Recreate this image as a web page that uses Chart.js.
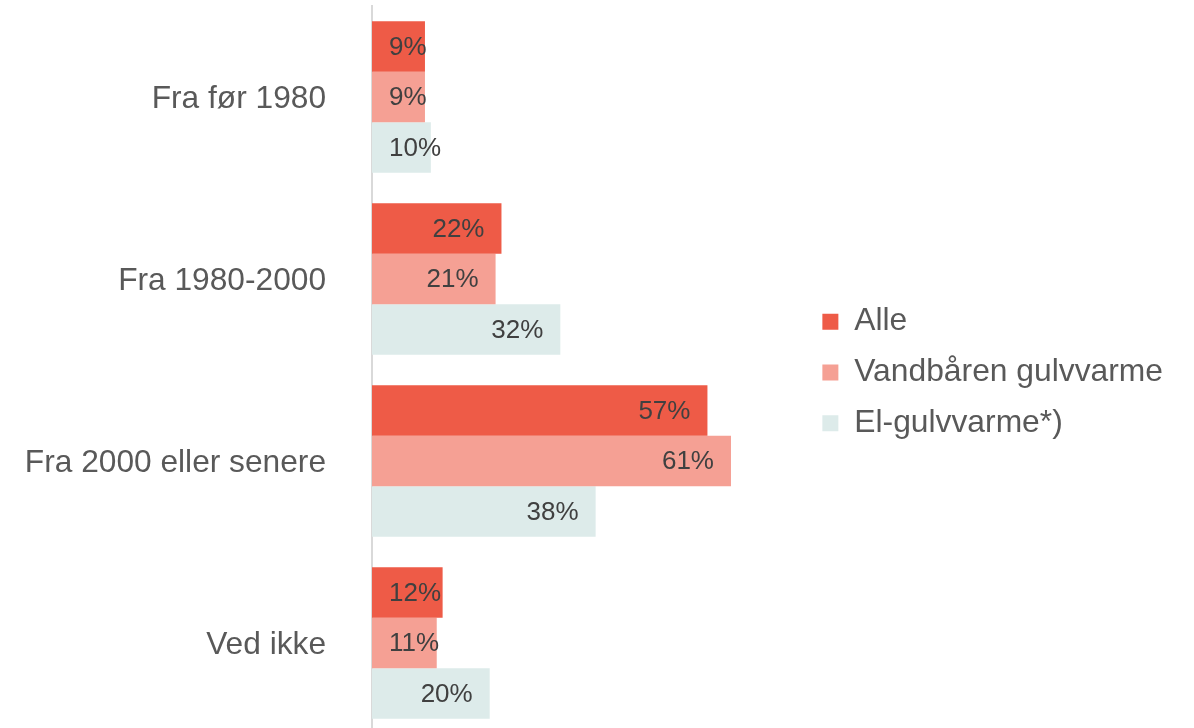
<!DOCTYPE html>
<html>
<head>
<meta charset="utf-8">
<script src="https://cdn.jsdelivr.net/npm/chart.js@4/dist/chart.umd.min.js"></script>
<style>
  html, body { margin: 0; padding: 0; background: #fff; overflow: hidden; }
  .wrap { width: 1194px; height: 741px; position: relative; }
</style>
</head>
<body>
<div class="wrap"><canvas id="chart"></canvas></div>
<script>
// Data
const categories = ["Fra før 1980", "Fra 1980-2000", "Fra 2000 eller senere", "Ved ikke"];
const seriesNames = ["Alle", "Vandbåren gulvvarme", "El-gulvvarme*)"];
const alle = [9, 22, 57, 12];
const vandbaaren = [9, 21, 61, 11];
const elGulvvarme = [10, 32, 38, 20];

const colors = ["#EE5B47", "#F5A094", "#DDEBEA"];
const fontFamily = "'Liberation Sans', Arial, sans-serif";

// Labels inside bar end (clamped to the base)
const barLabels = {
  id: "barLabels",
  afterDatasetsDraw(chart) {
    const ctx = chart.ctx;
    ctx.save();
    ctx.font = `26px ${fontFamily}`;
    ctx.fillStyle = "#404040";
    ctx.textBaseline = "middle";
    ctx.textAlign = "left";
    chart.data.datasets.forEach((ds, i) => {
      const meta = chart.getDatasetMeta(i);
      meta.data.forEach((bar, j) => {
        const text = ds.data[j] + "%";
        const w = ctx.measureText(text).width;
        const x = Math.max(bar.x - 17 - w, bar.base + 17);
        ctx.fillText(text, x, bar.y + 1);
      });
    });
    ctx.restore();
  }
};

new Chart(document.getElementById("chart"), {
  type: "bar",
  data: {
    labels: categories,
    datasets: [
      { label: seriesNames[0], data: alle, backgroundColor: colors[0] },
      { label: seriesNames[1], data: vandbaaren, backgroundColor: colors[1] },
      { label: seriesNames[2], data: elGulvvarme, backgroundColor: colors[2] }
    ]
  },
  options: {
    indexAxis: "y",
    responsive: true,
    maintainAspectRatio: false,
    animation: false,
    layout: { padding: { top: 6, bottom: 7, left: 0, right: 21 } },
    datasets: { bar: { categoryPercentage: 0.832, barPercentage: 1, borderWidth: 0 } },
    scales: {
      x: { display: false, min: 0, max: 73.3 },
      y: {
        afterFit(scale) {
          scale.width = 372;
          scale.paddingTop = 0;
          scale.paddingBottom = 0;
        },
        grid: { display: false, drawTicks: false },
        border: { display: true, color: "#D9D9D9", width: 2 },
        ticks: {
          color: "#595959",
          padding: 46,
          labelOffset: 2,
          font: { family: fontFamily, size: 31.7 }
        }
      }
    },
    plugins: {
      legend: {
        position: "right",
        maxWidth: 420,
        // empty title only nudges the items down a little
        title: { display: true, text: "", padding: 0, font: { size: 5, lineHeight: 1 } },
        labels: {
          boxWidth: 16,
          boxHeight: 16,
          padding: 19,
          color: "#595959",
          font: { family: fontFamily, size: 31.8 }
        }
      },
      tooltip: { enabled: false }
    }
  },
  plugins: [barLabels]
});
</script>
</body>
</html>
